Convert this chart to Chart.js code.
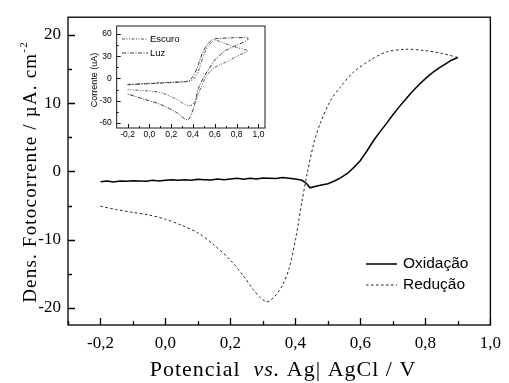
<!DOCTYPE html>
<html>
<head>
<meta charset="utf-8">
<script src="https://cdn.jsdelivr.net/npm/chart.js@4"></script>
<style>
  body { margin: 0; background: #fff; }
  .wrap { position: relative; width: 509px; height: 383px; }
  #main { position: absolute; left: 0; top: 0; }
  #inset { position: absolute; left: 0; top: 0; }
</style>
</head>
<body>
<div class="wrap">
  <canvas id="main" width="509" height="383"></canvas>
  <canvas id="inset" width="280" height="145"></canvas>
</div>
<script>
// Dados - curva principal
const oxV = [-0.20, -0.18, -0.16, -0.14, -0.12, -0.10, -0.08, -0.06, -0.04, -0.02, 0.00, 0.02, 0.04, 0.06, 0.08, 0.10, 0.12, 0.14, 0.16, 0.18, 0.20, 0.22, 0.24, 0.26, 0.28, 0.30, 0.32, 0.34, 0.36, 0.38, 0.40, 0.42, 0.435, 0.445, 0.46, 0.48, 0.50, 0.52, 0.54, 0.56, 0.58, 0.60, 0.62, 0.64, 0.66, 0.68, 0.70, 0.72, 0.74, 0.76, 0.78, 0.80, 0.82, 0.84, 0.86, 0.88, 0.90];
const oxJ = [-1.5, -1.4, -1.55, -1.4, -1.45, -1.35, -1.4, -1.45, -1.3, -1.4, -1.3, -1.2, -1.3, -1.2, -1.3, -1.15, -1.2, -1.25, -1.1, -1.2, -1.1, -1.0, -1.15, -1.0, -1.1, -0.95, -1.0, -1.05, -0.9, -1.0, -1.1, -1.3, -1.8, -2.4, -2.2, -2.0, -1.8, -1.4, -0.9, -0.3, 0.6, 1.6, 3.0, 4.5, 5.8, 7.0, 8.3, 9.5, 10.6, 11.7, 12.7, 13.6, 14.4, 15.1, 15.7, 16.3, 16.7];

const redV = [-0.20, -0.15, -0.10, -0.05, 0.00, 0.05, 0.10, 0.15, 0.20, 0.24, 0.27, 0.29, 0.31, 0.32, 0.34, 0.36, 0.38, 0.40, 0.42, 0.437, 0.457, 0.476, 0.507, 0.537, 0.58, 0.63, 0.68, 0.74, 0.80, 0.85, 0.90];
const redJ = [-5.1, -5.6, -6.0, -6.4, -7.0, -7.9, -9.0, -10.8, -13.0, -15.3, -17.3, -18.4, -19.1, -19.0, -18.1, -16.7, -14.3, -10.0, -4.4, -0.1, 4.2, 7.0, 10.3, 12.3, 14.6, 16.3, 17.5, 17.9, 17.7, 17.3, 16.7];

const xTicks = [-0.2, 0.0, 0.2, 0.4, 0.6, 0.8, 1.0];
const xMinor = [-0.3, -0.1, 0.1, 0.3, 0.5, 0.7, 0.9];
const yTicks = [-20, -10, 0, 10, 20];
const yMinor = [-15, -5, 5, 15];

// Dados - inserto (voltametria)
const escuroV = [-0.20, 0.00, 0.20, 0.38, 0.42, 0.45, 0.49, 0.53, 0.58, 0.60, 0.70, 0.80, 0.90, 0.90, 0.80, 0.70, 0.60, 0.53, 0.47, 0.42, 0.37, 0.30, 0.25, 0.10, 0.00, -0.20];
const escuroI = [-8, -6.5, -5, -3, 2, 10, 28, 42, 50, 52, 47, 42, 38, 37, 30, 22, 15, 5, -13, -31, -37, -33, -28, -19, -17, -15];
const luzV = [-0.20, 0.00, 0.20, 0.36, 0.40, 0.437, 0.48, 0.53, 0.58, 0.62, 0.75, 0.90, 0.90, 0.80, 0.70, 0.65, 0.60, 0.55, 0.50, 0.45, 0.405, 0.35, 0.25, 0.10, -0.05, -0.20];
const luzI = [-8.5, -7, -5.5, -3.5, 3, 14, 32, 46, 52.6, 54, 55, 55, 52, 45, 38, 32, 25, 14, 2, -13, -40, -56, -46, -35, -28, -21];

const insetXTicks = [-0.2, 0.0, 0.2, 0.4, 0.6, 0.8, 1.0];
const insetXMinor = [-0.1, 0.1, 0.3, 0.5, 0.7, 0.9];
const insetYTicks = [-60, -30, 0, 30, 60];
const insetYMinor = [-45, -15, 15, 45];

Chart.defaults.color = '#000';
Chart.defaults.animation = false;

const pts = (xs, ys) => xs.map((v, i) => ({ x: v, y: ys[i] }));
const comma = (v) => v.toFixed(1).replace('.', ',');
const serif = '"Liberation Serif", "Times New Roman", serif';
const sans = '"Liberation Sans", Arial, sans-serif';

function drawFrameTicks(chart, xs, xm, ys, ym, major, minor, lw) {
  const { ctx, chartArea: a, scales: { x, y } } = chart;
  ctx.save();
  ctx.strokeStyle = '#000';
  ctx.lineWidth = lw;
  ctx.strokeRect(a.left, a.top, a.right - a.left, a.bottom - a.top);
  ctx.beginPath();
  xs.forEach(v => { const p = Math.round(x.getPixelForValue(v)) + 0.5; ctx.moveTo(p, a.bottom); ctx.lineTo(p, a.bottom - major); });
  xm.forEach(v => { const p = Math.round(x.getPixelForValue(v)) + 0.5; ctx.moveTo(p, a.bottom); ctx.lineTo(p, a.bottom - minor); });
  ys.forEach(v => { const p = Math.round(y.getPixelForValue(v)) + 0.5; ctx.moveTo(a.left, p); ctx.lineTo(a.left + major, p); });
  ym.forEach(v => { const p = Math.round(y.getPixelForValue(v)) + 0.5; ctx.moveTo(a.left, p); ctx.lineTo(a.left + minor, p); });
  ctx.stroke();
  ctx.restore();
}

// Gráfico principal
const mainPlugin = {
  id: 'mainDeco',
  afterDraw(chart) {
    const { ctx } = chart;
    drawFrameTicks(chart, xTicks, xMinor, yTicks, yMinor, 7, 4, 1.3);

    ctx.save();
    ctx.fillStyle = '#000';
    ctx.letterSpacing = '1px';
    // título eixo x
    const parts = [['Potencial  ', 'normal'], ['vs.', 'italic'], [' Ag| AgCl / V', 'normal']];
    let total = 0;
    parts.forEach(p => { ctx.font = p[1] + ' 22px ' + serif; total += ctx.measureText(p[0]).width; });
    let xx = 283 - total / 2;
    ctx.textBaseline = 'alphabetic';
    parts.forEach(p => {
      ctx.font = p[1] + ' 22px ' + serif;
      ctx.fillText(p[0], xx, 376);
      xx += ctx.measureText(p[0]).width;
    });

    // título eixo y
    ctx.letterSpacing = '1.2px';
    ctx.translate(36, 172);
    ctx.rotate(-Math.PI / 2);
    const yt = 'Dens. Fotocorrente / \u00b5A. cm';
    ctx.font = '19px ' + serif;
    const w1 = ctx.measureText(yt).width;
    ctx.font = '11px ' + serif;
    const w2 = ctx.measureText('-2').width;
    const sx = -(w1 + w2) / 2;
    ctx.font = '19px ' + serif;
    ctx.fillText(yt, sx, 0);
    ctx.font = '11px ' + serif;
    ctx.fillText('-2', sx + w1, -9);
    ctx.restore();

    // legenda
    ctx.save();
    ctx.font = '15.5px ' + sans;
    ctx.textBaseline = 'middle';
    chart.data.datasets.forEach((ds, i) => {
      const ly = 264 + i * 21;
      ctx.strokeStyle = ds.borderColor;
      ctx.lineWidth = ds.borderWidth;
      ctx.setLineDash(ds.borderDash || []);
      ctx.beginPath();
      ctx.moveTo(366, ly);
      ctx.lineTo(397, ly);
      ctx.stroke();
      ctx.fillStyle = '#000';
      ctx.fillText(ds.label, 403, ly);
    });
    ctx.restore();
  }
};

new Chart(document.getElementById('main'), {
  type: 'line',
  data: {
    datasets: [
      { label: 'Oxidação', data: pts(oxV, oxJ), borderColor: '#000', borderWidth: 1.5, pointRadius: 0, tension: 0 },
      { label: 'Redução', data: pts(redV, redJ), borderColor: '#222', borderWidth: 1, borderDash: [2.5, 2.5], pointRadius: 0, tension: 0.3 }
    ]
  },
  options: {
    responsive: false,
    devicePixelRatio: 1,
    layout: { padding: { top: 11, right: 12, left: 0, bottom: 0 } },
    plugins: { legend: { display: false }, tooltip: { enabled: false } },
    scales: {
      x: {
        type: 'linear', min: -0.3, max: 1.0,
        afterBuildTicks: (axis) => { axis.ticks = xTicks.map(v => ({ value: v })); },
        afterFit: (axis) => { axis.height = 58; },
        grid: { display: false, drawTicks: false },
        border: { display: false },
        ticks: { font: { family: serif, size: 17 }, padding: 8, maxRotation: 0, callback: (v) => comma(v) }
      },
      y: {
        type: 'linear', min: -22.5, max: 22.6,
        afterBuildTicks: (axis) => { axis.ticks = yTicks.map(v => ({ value: v })); },
        afterFit: (axis) => { axis.width = 68; },
        grid: { display: false, drawTicks: false },
        border: { display: false },
        ticks: { font: { family: serif, size: 17 }, padding: 7 }
      }
    }
  },
  plugins: [mainPlugin]
});

// Inserto
const insetPlugin = {
  id: 'insetDeco',
  beforeDatasetsDraw(chart) {
    const { ctx, chartArea: a } = chart;
    ctx.save();
    ctx.fillStyle = '#fff';
    ctx.fillRect(a.left, a.top, a.right - a.left, a.bottom - a.top);
    ctx.restore();
  },
  afterDraw(chart) {
    const { ctx } = chart;
    drawFrameTicks(chart, insetXTicks, insetXMinor, insetYTicks, insetYMinor, 4, 2, 0.9);
    ctx.save();
    ctx.fillStyle = '#000';
    ctx.font = '9.5px ' + sans;
    ctx.textBaseline = 'middle';
    chart.data.datasets.forEach((ds, i) => {
      const ly = 39 + i * 14;
      ctx.strokeStyle = ds.borderColor;
      ctx.lineWidth = ds.borderWidth;
      ctx.setLineDash(ds.borderDash || []);
      ctx.beginPath();
      ctx.moveTo(122, ly);
      ctx.lineTo(148, ly);
      ctx.stroke();
      ctx.fillText(ds.label, 150, ly);
    });
    ctx.translate(95, 80);
    ctx.rotate(-Math.PI / 2);
    ctx.textAlign = 'center';
    ctx.font = '9px ' + sans;
    ctx.fillText('Corrente (uA)', 0, 0);
    ctx.restore();
  }
};

new Chart(document.getElementById('inset'), {
  type: 'line',
  data: {
    datasets: [
      { label: 'Escuro', data: pts(escuroV, escuroI), borderColor: '#444', borderWidth: 0.9, borderDash: [3, 1.5, 1, 1.5, 1, 1.5], pointRadius: 0, tension: 0.3 },
      { label: 'Luz', data: pts(luzV, luzI), borderColor: '#222', borderWidth: 0.9, borderDash: [4, 1.5, 1, 1.5], pointRadius: 0, tension: 0.3 }
    ]
  },
  options: {
    responsive: false,
    devicePixelRatio: 1,
    layout: { padding: { top: 26, right: 15, left: 80, bottom: 0 } },
    plugins: { legend: { display: false }, tooltip: { enabled: false } },
    scales: {
      x: {
        type: 'linear', min: -0.3, max: 1.06,
        afterBuildTicks: (axis) => { axis.ticks = insetXTicks.map(v => ({ value: v })); },
        afterFit: (axis) => { axis.height = 17; },
        grid: { display: false, drawTicks: false },
        border: { display: false },
        ticks: { font: { family: sans, size: 8.5 }, padding: 2, maxRotation: 0, callback: (v) => comma(v) }
      },
      y: {
        type: 'linear', min: -67, max: 71,
        afterBuildTicks: (axis) => { axis.ticks = insetYTicks.map(v => ({ value: v })); },
        afterFit: (axis) => { axis.width = 36.7; },
        grid: { display: false, drawTicks: false },
        border: { display: false },
        ticks: { font: { family: sans, size: 8.5 }, padding: 5 }
      }
    }
  },
  plugins: [insetPlugin]
});
</script>
</body>
</html>
